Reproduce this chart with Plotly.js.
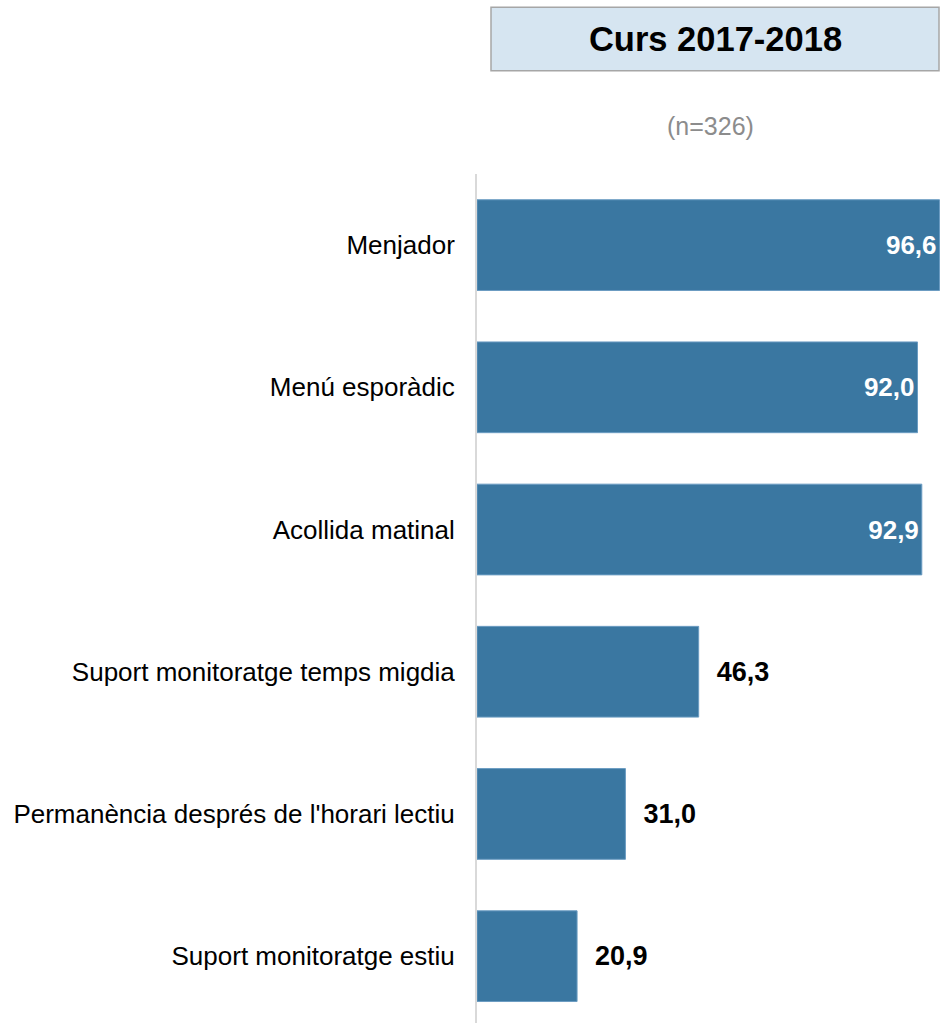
<!DOCTYPE html>
<html>
<head>
<meta charset="utf-8">
<script src="https://cdn.plot.ly/plotly-3.0.1.min.js"></script>
<style>
  html, body { margin: 0; padding: 0; background: #ffffff; overflow: hidden; }
  #chart { width: 940px; height: 1023px; }
</style>
</head>
<body>
<div id="chart"></div>
<script>
// ---- Data ----
const categories = [
  "Menjador",
  "Menú esporàdic",
  "Acollida matinal",
  "Suport monitoratge temps migdia",
  "Permanència després de l'horari lectiu",
  "Suport monitoratge estiu"
];
const values = [96.6, 92.0, 92.9, 46.3, 31.0, 20.9];
const labelPositions = ["inside", "inside", "inside", "outside", "outside", "outside"];
const chartTitle = "Curs 2017-2018";
const sampleNote = "(n=326)";

// ---- Build ----
const NB = "\u00a0";
const fmt = v => v.toFixed(1).replace(".", ",");
const texts = values.map((v, i) =>
  labelPositions[i] === "inside" ? fmt(v) : NB + NB + fmt(v)
);

const trace = {
  type: "bar",
  orientation: "h",
  y: categories,
  x: values,
  text: texts,
  textposition: labelPositions,
  insidetextanchor: "end",
  insidetextfont: { family: "Liberation Sans, Arial, sans-serif", size: 26, color: "#ffffff", weight: "bold" },
  outsidetextfont: { family: "Liberation Sans, Arial, sans-serif", size: 27, color: "#000000", weight: "bold" },
  textangle: 0,
  constraintext: "none",
  cliponaxis: true,
  marker: { color: "#3a77a1", line: { color: "#6b9cc2", width: 1 } },
  hoverinfo: "skip"
};

const layout = {
  width: 940,
  height: 1023,
  margin: { l: 477, r: 0, t: 174, b: 0 },
  paper_bgcolor: "#ffffff",
  plot_bgcolor: "#ffffff",
  showlegend: false,
  bargap: 0.362,
  font: { family: "Liberation Sans, Arial, sans-serif", color: "#000000" },
  title: {
    text: "<b>" + chartTitle + "</b>",
    font: { family: "Liberation Sans, Arial, sans-serif", size: 34.5, color: "#000000" },
    x: 715.5 / 940, xref: "container", xanchor: "center",
    y: 1 - 39 / 1023, yref: "container", yanchor: "middle"
  },
  xaxis: {
    range: [0, 96.7],
    showgrid: false, zeroline: false, showline: false,
    showticklabels: false, ticks: "", fixedrange: true
  },
  yaxis: {
    type: "category",
    categoryorder: "array",
    categoryarray: categories,
    range: [5.47, -0.5],
    showgrid: false, zeroline: false,
    showline: true, linecolor: "#d9d9d9", linewidth: 2,
    ticks: "outside", ticklen: 15, tickcolor: "rgba(0,0,0,0)",
    tickfont: { family: "Liberation Sans, Arial, sans-serif", size: 26, color: "#000000" },
    fixedrange: true
  },
  shapes: [{
    type: "rect", xref: "paper", yref: "paper",
    x0: (491 - 477) / 463, x1: (939 - 477) / 463,
    y0: 1 + (174 - 70.7) / 849, y1: 1 + (174 - 7.3) / 849,
    fillcolor: "#d6e5f1",
    line: { color: "#a6a6a6", width: 1.5 },
    layer: "below"
  }],
  annotations: [{
    text: sampleNote, showarrow: false,
    xref: "paper", yref: "paper",
    x: (710 - 477) / 463, y: 1 + (174 - 125.5) / 849,
    xanchor: "center", yanchor: "middle",
    font: { family: "Liberation Sans, Arial, sans-serif", size: 25, color: "#8c8c8c" }
  }]
};

Plotly.newPlot("chart", [trace], layout, { displayModeBar: false, staticPlot: true });
</script>
</body>
</html>
